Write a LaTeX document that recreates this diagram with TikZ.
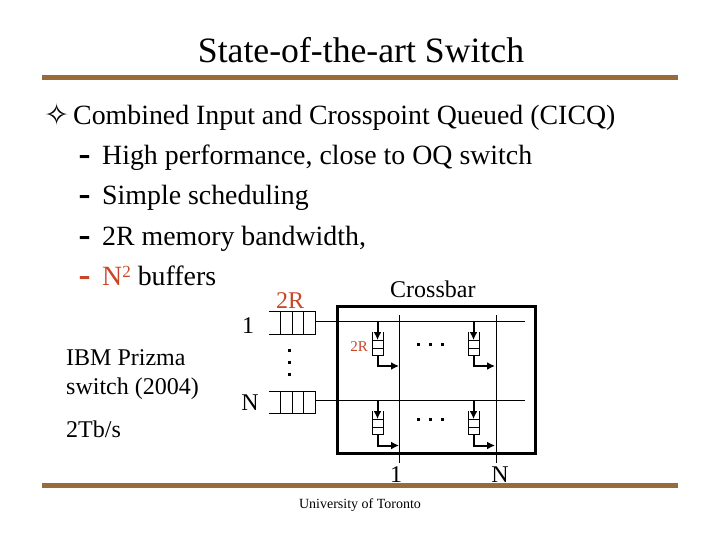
\documentclass[tikz,border=0pt]{standalone}
\usepackage{fontspec}
\setmainfont{Liberation Serif}
\newfontfamily\symfont{DejaVu Sans}
\usetikzlibrary{arrows.meta,positioning}
\definecolor{rulecol}{RGB}{153,107,58}
\definecolor{redtxt}{RGB}{200,70,40}
\tikzset{
  txt/.style={anchor=base west,inner sep=0pt,font=\fontsize{27.85}{30}\selectfont},
  bullet/.style={anchor=base west,inner sep=0pt,font=\fontsize{36}{36}\selectfont\bfseries},
  lbl/.style={inner sep=0pt,font=\fontsize{24}{26}\selectfont},
  hline/.style={line width=1pt},
  arr/.style={line width=2pt,-{Latex[length=8pt,width=8pt]}},
  bar/.style={draw=none,fill=rulecol}
}
% one queue, drawn open on its left or top side
\newcommand{\inqueue}[2]{
  \draw[hline] (269,#1)--(315,#1)--(315,#2)--(269,#2);
  \foreach \x in {280,292,303} {\draw[hline] (\x,#1)--(\x,#2);}
}
\newcommand{\xqueue}[2]{
  \draw[hline] (#1,#2)--(#1,#2+23)--(#1+11,#2+23)--(#1+11,#2);
  \foreach \d in {8,16} {\draw[hline] (#1,#2+\d)--(#1+11,#2+\d);}
}
\begin{document}
\begin{tikzpicture}[x=1pt,y=-1pt]
\useasboundingbox (0,0) rectangle (720,540);
\node[inner sep=0pt,font=\fontsize{35.7}{38}\selectfont] (title) at (361,50) {State-of-the-art Switch};
\fill[bar] (42,75) rectangle (678,80);
\fill[bar] (42,483) rectangle (678,488);
\node[inner sep=0pt,font=\fontsize{30}{36}\selectfont\symfont] (dia) at (57,115) {\char"2727};
\node[txt] (l0) at (73,125) {Combined Input and Crosspoint Queued (CICQ)};
\foreach \n/\y/\t in {1/165/{High performance, close to OQ switch},2/205/{Simple scheduling},3/245/{2R memory bandwidth,}} {
  \node[bullet] (d\n) at (78.5,\y+1) {-};
  \node[txt] (l\n) at (102,\y) {\t};
}
\node[bullet,text=redtxt] (d4) at (78.5,286) {-};
\node[txt] (l4) at (102,285) {\textcolor{redtxt}{N\raisebox{8pt}{\fontsize{17}{17}\selectfont 2}} buffers};
\node[lbl,anchor=base west] (ibm) at (66,365) {IBM Prizma};
\node[lbl,anchor=base west] (sw) at (66,394) {switch (2004)};
\node[lbl,anchor=base west] (tb) at (66,437) {2Tb/s};
\node[lbl,anchor=base west] (cb) at (390,297) {Crossbar};
\node[lbl,anchor=base,text=redtxt] (r2) at (290,308) {2R};
\node[lbl,anchor=base,text=redtxt,font=\fontsize{15}{16}\selectfont] (r3) at (359,351) {2R};
\node[lbl,anchor=base] (i1) at (248,333) {1};
\node[lbl,anchor=base] (iN) at (250,410) {N};
\node[lbl,anchor=base] (o1) at (396,482) {1};
\node[lbl,anchor=base] (oN) at (500,482) {N};
\node[inner sep=0pt,font=\fontsize{14}{16}\selectfont] (uni) at (360,505) {University of Toronto};
\draw[line width=3pt] (337,306) rectangle (535,453);
\inqueue{311}{334}
\inqueue{391}{413}
\draw[hline] (315,321)--(525,321);
\draw[hline] (315,400)--(525,400);
\foreach \x in {399,496} {\draw[hline] (\x,315)--(\x,463);}
\foreach \x in {372,468} {
  \xqueue{\x}{332}
  \xqueue{\x}{411}
  \draw[arr] (\x+5.5,321)--(\x+5.5,340);
  \draw[arr] (\x+5.5,400)--(\x+5.5,419);
  \draw[arr] (\x+5.5,355)--(\x+5.5,366)--(\x+27,366);
  \draw[arr] (\x+5.5,434)--(\x+5.5,445.5)--(\x+27,445.5);
}
\foreach \y in {348.5,360.5,372.5} {\fill (287.5,\y) rectangle +(3,3);}
\foreach \x in {416.5,428.5,441} {
  \fill (\x,342.5) rectangle +(3,3);
  \fill (\x,417.5) rectangle +(3,3);
}
\end{tikzpicture}
\end{document}
